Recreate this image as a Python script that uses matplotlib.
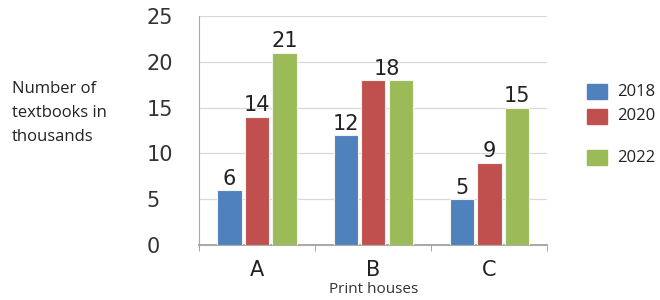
import numpy as np
import matplotlib.pyplot as plt
from matplotlib.patches import Rectangle

houses = ['A', 'B', 'C']
years = ['2018', '2020', '2022']
books_2018 = [6, 12, 5]
books_2020 = [14, 18, 9]
books_2022 = [21, 18, 15]
colors = ['#4F81BD', '#C0504D', '#9BBB59']

fig = plt.figure(figsize=(6.6, 3.0), dpi=100)
ax = fig.add_axes([0.3015, 0.183, 0.528, 0.764])

x = np.arange(len(houses))
w = 0.21
step = 0.237
series = [books_2018, books_2020, books_2022]
all_bars = []
for i, (vals, c) in enumerate(zip(series, colors)):
    bars = ax.bar(x + (i - 1) * step, vals, w, color=c, edgecolor='#f4f4ee',
                  linewidth=0.8, zorder=3)
    all_bars.append(bars)

lab_kw = dict(fontsize=15, color='#222222', ha='center', va='bottom')
for k in range(len(houses)):
    if books_2020[k] == books_2022[k]:
        # equal values share one label between the two bars
        r, g = all_bars[1][k], all_bars[2][k]
        xc = (r.get_x() + g.get_x() + g.get_width()) / 2
        ax.annotate(str(books_2020[k]), (xc, books_2020[k]), xytext=(0, 1),
                    textcoords='offset points', **lab_kw)
        todo = [0]
    else:
        todo = [0, 1, 2]
    for i in todo:
        b = all_bars[i][k]
        ax.annotate(str(series[i][k]), (b.get_x() + b.get_width() / 2, series[i][k]),
                    xytext=(0, 1), textcoords='offset points', **lab_kw)

ax.set_xlim(-0.5, 2.5)
ax.set_ylim(0, 25)
ax.set_yticks([0, 5, 10, 15, 20, 25])
ax.grid(axis='y', color='#d9d9d9', linewidth=0.9, zorder=0)
ax.tick_params(axis='y', length=0, pad=38, labelsize=15, labelcolor='#333333')
for t in ax.get_yticklabels():
    t.set_ha('left')
ax.set_xticks(x)
ax.set_xticklabels(houses)
ax.tick_params(axis='x', which='major', length=0, pad=11, labelsize=15,
               labelcolor='#222222')
ax.set_xticks([-0.5, 0.5, 1.5, 2.5], minor=True)
ax.tick_params(axis='x', which='minor', length=4, color='#999999', direction='out')
for s in ['top', 'right']:
    ax.spines[s].set_visible(False)
ax.spines['left'].set_color('#aaaaaa')
ax.spines['bottom'].set_color('#999999')
ax.spines['bottom'].set_linewidth(1.2)
ax.set_xlabel('Print houses', fontsize=11, color='#333333', labelpad=1,
              family='Open Sans')

fig.text(0.018, 0.623, 'Number of\ntextbooks in\nthousands', fontsize=12,
         family='Open Sans', color='#222222', va='center', linespacing=1.65)

# legend
leg_y = [0.695, 0.612, 0.475]
for yr, c, yy in zip(years, colors, leg_y):
    fig.add_artist(Rectangle((0.889, yy - 0.024), 0.03, 0.048, color=c,
                             transform=fig.transFigure))
    fig.text(0.935, yy, yr, fontsize=12, family='Open Sans', color='#222222',
             va='center')

fig.savefig('out.png')
